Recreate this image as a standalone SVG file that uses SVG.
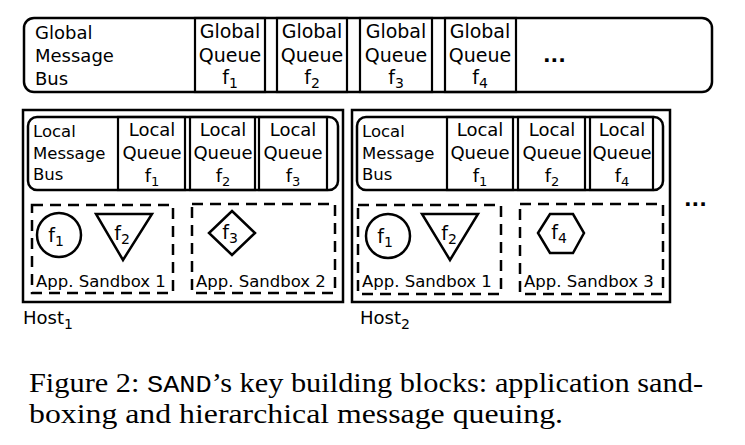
<svg xmlns="http://www.w3.org/2000/svg" width="745" height="445" viewBox="0 0 745 445">
<style>
.b{fill:none;stroke:#000;stroke-width:2.5}
.q{fill:none;stroke:#000;stroke-width:2.2}
.d{fill:none;stroke:#000;stroke-width:2.5;stroke-dasharray:11 7}
text{font-family:"DejaVu Sans",sans-serif;fill:#000}
.g{font-size:18px}
.gq{font-size:19px}
.l{font-size:16.5px}
.lq{font-size:18px}
.s{font-size:16.5px}
.f{font-size:19px}
.m{text-anchor:middle}
.cap{font-family:"Liberation Serif","Times New Roman",serif;font-size:27px}
</style>
<rect width="745" height="445" fill="#fff"/>
<g id="global-bus">
<rect class="b" x="24" y="18" width="688" height="74" rx="10"/>
<text class="g" x="35" y="39">Global</text>
<text class="g" x="35" y="62">Message</text>
<text class="g" x="35" y="85">Bus</text>
<text x="543" y="62" style="font-weight:bold;font-size:20px">...</text>
</g>
<g id="global-queue-f1">
<rect class="q" x="195" y="18" width="70" height="74"/>
<text class="gq m" x="230" y="38">Global</text>
<text class="gq m" x="230" y="62">Queue</text>
<text class="gq m" x="230" y="84">f<tspan dy="4" font-size="14">1</tspan></text>
</g>
<g id="global-queue-f2">
<rect class="q" x="277" y="18" width="70" height="74"/>
<text class="gq m" x="312" y="38">Global</text>
<text class="gq m" x="312" y="62">Queue</text>
<text class="gq m" x="312" y="84">f<tspan dy="4" font-size="14">2</tspan></text>
</g>
<g id="global-queue-f3">
<rect class="q" x="360" y="18" width="72" height="74"/>
<text class="gq m" x="396" y="38">Global</text>
<text class="gq m" x="396" y="62">Queue</text>
<text class="gq m" x="396" y="84">f<tspan dy="4" font-size="14">3</tspan></text>
</g>
<g id="global-queue-f4">
<rect class="q" x="445" y="18" width="71" height="74"/>
<text class="gq m" x="480" y="38">Global</text>
<text class="gq m" x="480" y="62">Queue</text>
<text class="gq m" x="480" y="84">f<tspan dy="4" font-size="14">4</tspan></text>
</g>

<g id="host1">
<rect class="b" x="23" y="110" width="320" height="192"/>
<text x="23" y="324" style="font-size:18px">Host<tspan dy="5" font-size="14">1</tspan></text>
</g>
<g id="host1-local-bus">
<rect class="b" x="28" y="117" width="310" height="73" rx="9"/>
<text class="l" x="33" y="137">Local</text>
<text class="l" x="33" y="159">Message</text>
<text class="l" x="33" y="180">Bus</text>
</g>
<g id="host1-local-queue-f1">
<rect class="q" x="118" y="117" width="67" height="73"/>
<text class="lq m" x="152" y="136">Local</text>
<text class="lq m" x="152" y="159">Queue</text>
<text class="lq m" x="152" y="182">f<tspan dy="4" font-size="13">1</tspan></text>
</g>
<g id="host1-local-queue-f2">
<rect class="q" x="190" y="117" width="65" height="73"/>
<text class="lq m" x="223" y="136">Local</text>
<text class="lq m" x="223" y="159">Queue</text>
<text class="lq m" x="223" y="182">f<tspan dy="4" font-size="13">2</tspan></text>
</g>
<g id="host1-local-queue-f3">
<rect class="q" x="259" y="117" width="68" height="73"/>
<text class="lq m" x="293" y="136">Local</text>
<text class="lq m" x="293" y="159">Queue</text>
<text class="lq m" x="293" y="182">f<tspan dy="4" font-size="13">3</tspan></text>
</g>
<g id="host1-sandbox1">
<rect class="d" x="32" y="205" width="141" height="88"/>
<text class="s" x="36" y="287">App. Sandbox 1</text>
</g>
<g id="host1-f1">
<circle class="b" cx="59" cy="235" r="22"/>
<text class="f m" x="56" y="242">f<tspan dy="4" font-size="14">1</tspan></text>
</g>
<g id="host1-f2">
<polygon class="b" points="96,214 152,214 123,260"/>
<text class="f m" x="122" y="240">f<tspan dy="4" font-size="14">2</tspan></text>
</g>
<g id="host1-sandbox2">
<rect class="d" x="192" y="204" width="143" height="89"/>
<text class="s" x="196" y="287">App. Sandbox 2</text>
</g>
<g id="host1-f3">
<polygon class="b" points="232,211 255,233 232,255 209,233"/>
<text class="f m" x="230" y="239">f<tspan dy="4" font-size="14">3</tspan></text>
</g>

<g id="host2">
<rect class="b" x="352" y="110" width="318" height="192"/>
<text x="360" y="324" style="font-size:18px">Host<tspan dy="5" font-size="14">2</tspan></text>
</g>
<g id="host2-local-bus">
<rect class="b" x="357" y="117" width="306" height="73" rx="9"/>
<text class="l" x="362" y="137">Local</text>
<text class="l" x="362" y="159">Message</text>
<text class="l" x="362" y="180">Bus</text>
</g>
<g id="host2-local-queue-f1">
<rect class="q" x="447" y="117" width="66" height="73"/>
<text class="lq m" x="480" y="136">Local</text>
<text class="lq m" x="480" y="159">Queue</text>
<text class="lq m" x="480" y="182">f<tspan dy="4" font-size="13">1</tspan></text>
</g>
<g id="host2-local-queue-f2">
<rect class="q" x="518" y="117" width="67" height="73"/>
<text class="lq m" x="552" y="136">Local</text>
<text class="lq m" x="552" y="159">Queue</text>
<text class="lq m" x="552" y="182">f<tspan dy="4" font-size="13">2</tspan></text>
</g>
<g id="host2-local-queue-f4">
<rect class="q" x="590" y="117" width="63" height="73"/>
<text class="lq m" x="622" y="136">Local</text>
<text class="lq m" x="622" y="159">Queue</text>
<text class="lq m" x="622" y="182">f<tspan dy="4" font-size="13">4</tspan></text>
</g>
<g id="host2-sandbox1">
<rect class="d" x="358" y="205" width="143" height="89"/>
<text class="s" x="362" y="287">App. Sandbox 1</text>
</g>
<g id="host2-f1">
<circle class="b" cx="388" cy="236" r="22"/>
<text class="f m" x="385" y="243">f<tspan dy="4" font-size="14">1</tspan></text>
</g>
<g id="host2-f2">
<polygon class="b" points="422,214 478,214 450,260"/>
<text class="f m" x="449" y="240">f<tspan dy="4" font-size="14">2</tspan></text>
</g>
<g id="host2-sandbox3">
<rect class="d" x="520" y="204" width="143" height="90"/>
<text class="s" x="524" y="287">App. Sandbox 3</text>
</g>
<g id="host2-f4">
<polygon class="b" points="538,233 550,214 573,214 584,233 573,253 550,253"/>
<text class="f m" x="559" y="239">f<tspan dy="4" font-size="14">4</tspan></text>
</g>
<text x="684" y="206" style="font-weight:bold;font-size:20px">...</text>

<g id="connectors"></g>

<g id="caption">
<text class="cap" x="29" y="392" textLength="674" lengthAdjust="spacingAndGlyphs">Figure 2: <tspan font-family="Liberation Mono, monospace" font-size="24">SAND</tspan>’s key building blocks: application sand-</text>
<text class="cap" x="29" y="423" textLength="534" lengthAdjust="spacingAndGlyphs">boxing and hierarchical message queuing.</text>
</g>
</svg>
